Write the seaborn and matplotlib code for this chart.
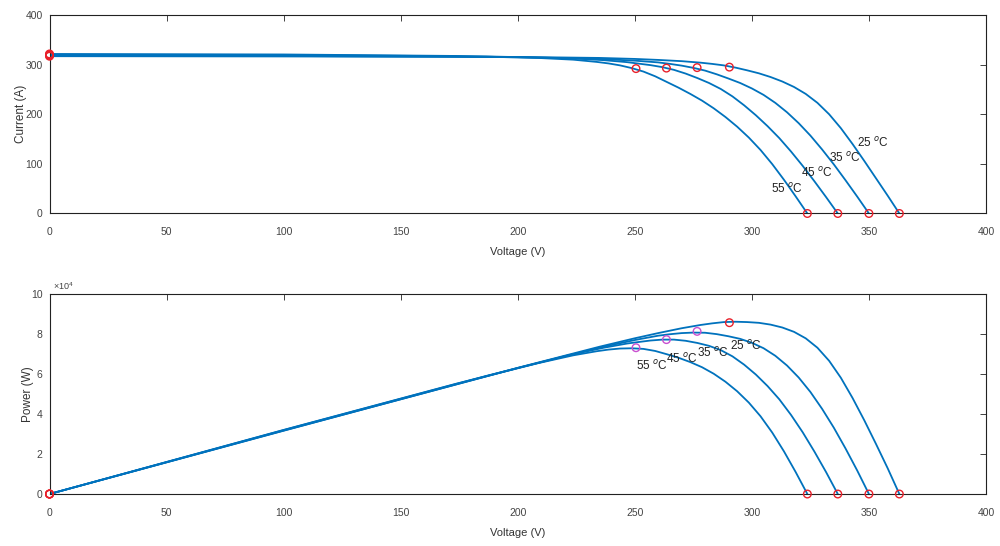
import numpy as np
import pandas as pd
import matplotlib
matplotlib.use("Agg")
import matplotlib.pyplot as plt
import seaborn as sns

# ---- data ----
temps = ["25", "35", "45", "55"]

v25 = [0, 100, 200, 235, 250, 260, 270, 278, 283, 288, 293, 298, 303, 308, 313, 318,
       323, 328, 333, 338, 343, 348, 353, 358, 363]
i25 = [317, 316.5, 315.5, 313.5, 311.5, 309.5, 307, 304, 301.5, 298.5, 294, 288.5, 282.5,
       275, 266, 255, 241, 223, 200, 172, 140, 106, 71, 36, 0]

v35 = [0, 100, 200, 235, 250, 260, 265, 270, 275, 280, 285, 290, 295, 300, 305, 310,
       315, 320, 325, 330, 335, 340, 345, 350]
i35 = [318.5, 317.5, 315, 311.5, 308, 304.5, 301.5, 298, 293.5, 288, 280.5, 272, 263,
       252, 239, 223, 204, 182, 157, 129, 99, 67, 34, 0]

v45 = [0, 100, 186.7, 221.7, 236.7, 246.7, 251.7, 256.7, 261.7, 266.7, 271.7, 276.7,
       281.7, 286.7, 291.7, 296.7, 301.7, 306.7, 311.7, 316.7, 321.7, 326.7, 331.7, 336.7]
i45 = [320, 319.5, 316.5, 313, 309, 305, 302, 299, 295, 289.5, 282, 273, 263, 251,
       236, 218, 198, 176, 152, 125, 96, 65, 33, 0]

v55 = [0, 100, 173.7, 208.7, 223.7, 233.7, 238.7, 243.7, 248.7, 253.7, 258.7, 263.7,
       268.7, 273.7, 278.7, 283.7, 288.7, 293.7, 298.7, 303.7, 308.7, 313.7, 318.7, 323.7]
i55 = [321.5, 320.5, 317.5, 313.5, 310, 305.5, 302.5, 298.5, 293, 286, 276.5, 265,
       253.5, 241, 227.5, 212, 194.5, 175, 153, 128, 99.5, 68, 34.5, 0]

mpp_v = [290.4, 276.6, 263.5, 250.5]
mpp_i = [295, 294, 293, 292]
voc = [363, 350, 336.7, 323.7]
isc = [317, 318.5, 320, 321.5]

x_ticks = [0, 50, 100, 150, 200, 250, 300, 350, 400]
i_ticks = [0, 100, 200, 300, 400]
p_ticks = [0, 2, 4, 6, 8, 10]

# label anchor positions (data coords) for the temperature annotations
lab_iv = [(345, 134), (333, 104), (321, 73), (308, 41)]
lab_pv = [(290.5, 7.2), (276.5, 6.85), (263.5, 6.55), (250.5, 6.2)]

# ---- build tables ----
curves = {"25": (v25, i25), "35": (v35, i35), "45": (v45, i45), "55": (v55, i55)}
rows = []
for t in temps:
    vv, ii = curves[t]
    for v, i in zip(vv, ii):
        rows.append({"T": t, "V": v, "I": i, "P": v * i / 1e4})
df = pd.DataFrame(rows)

pts_iv = pd.DataFrame({
    "V": [0] * 4 + mpp_v + voc,
    "I": isc + mpp_i + [0] * 4,
})
mpp_df = pd.DataFrame({"V": mpp_v, "P": [v * i / 1e4 for v, i in zip(mpp_v, mpp_i)], "T": temps})
end_df = pd.DataFrame({"V": [0] * 4 + voc, "P": [0] * 8})

# ---- style ----
sns.set_theme(style="white")
plt.rcParams["font.family"] = ["Liberation Sans", "DejaVu Sans"]
plt.rcParams["mathtext.fontset"] = "custom"
plt.rcParams["mathtext.rm"] = "Liberation Sans"

blue = "#0072BD"
red = "#E8202A"
mag = "#C94FD0"
tick_col = "#444444"

fig = plt.figure(figsize=(10, 5.46), dpi=100)
ax1 = fig.add_axes([0.0495, 0.609, 0.9365, 0.3635])
ax2 = fig.add_axes([0.0495, 0.0952, 0.9365, 0.3663])

for ax in (ax1, ax2):
    sns.lineplot(data=df, x="V", y="I" if ax is ax1 else "P", hue="T",
                 palette=[blue] * 4, estimator=None, sort=False,
                 legend=False, linewidth=1.3, ax=ax)

sns.scatterplot(data=pts_iv, x="V", y="I", marker="o", s=30, facecolors="none",
                edgecolor=red, linewidth=1.0, ax=ax1, clip_on=False, zorder=5)
sns.scatterplot(data=end_df, x="V", y="P", marker="o", s=30, facecolors="none",
                edgecolor=red, linewidth=1.0, ax=ax2, clip_on=False, zorder=5)
sns.scatterplot(data=mpp_df, x="V", y="P", marker="o", s=30, facecolors="none",
                edgecolor=[red, mag, mag, mag], linewidth=1.0, ax=ax2, zorder=5)

for (x, y), t in zip(lab_iv, temps):
    ax1.text(x, y, f"{t} $^{{o}}$C", fontsize=8.5, color="#222222")
for (x, y), t in zip(lab_pv, temps):
    ax2.text(x, y, f"{t} $^{{o}}$C", fontsize=8.5, color="#222222")

ax1.set_xlim(0, 400)
ax1.set_ylim(0, 400)
ax1.set_yticks(i_ticks)
ax2.set_xlim(0, 400)
ax2.set_ylim(0, 10)
ax2.set_yticks(p_ticks)
ax2.set_yticklabels([str(p) for p in p_ticks])
ax2.text(0.004, 1.012, r"$\times10^4$", transform=ax2.transAxes, fontsize=6.5,
         color=tick_col, ha="left", va="bottom")

for ax, yl, lp in ((ax1, "Current (A)", -1), (ax2, "Power (W)", -2)):
    ax.set_xticks(x_ticks)
    ax.set_xticklabels([str(x) for x in x_ticks])
    ax.tick_params(direction="in", top=True, right=True, length=4, width=0.6,
                   labelsize=7.5, colors="#222222", labelcolor=tick_col)
    ax.tick_params(axis="x", pad=10)
    ax.tick_params(axis="y", pad=5)
    ax.set_xlabel("Voltage (V)", fontsize=8, color="#333333", labelpad=7)
    ax.set_ylabel(yl, fontsize=8.5, color="#333333", labelpad=lp)
    for s in ax.spines.values():
        s.set_color("#222222")
        s.set_linewidth(0.8)

fig.savefig("out.png", dpi=100, facecolor="white")
